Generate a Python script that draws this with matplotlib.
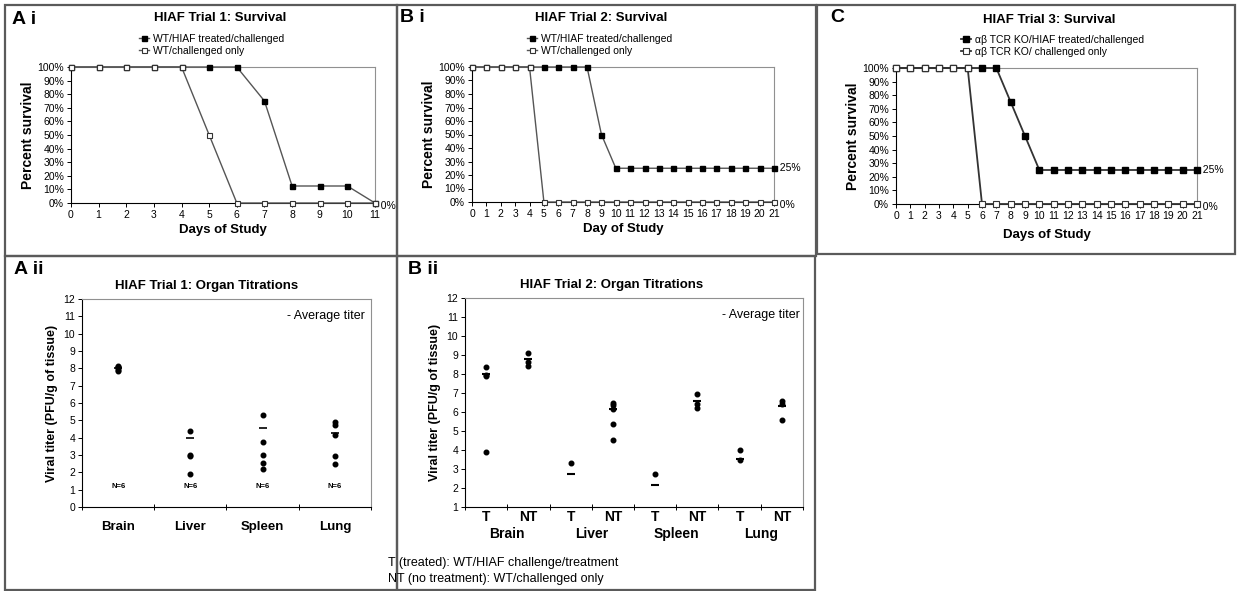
import matplotlib
matplotlib.use("Agg")
import matplotlib.pyplot as plt
from matplotlib.patches import Rectangle

plt.rcParams['font.family'] = ['Liberation Sans', 'DejaVu Sans']

W, H = 1241, 591

# survival data (percent alive per day)
ai_days = [0, 1, 2, 3, 4, 5, 6, 7, 8, 9, 10, 11]
ai_treated = [100, 100, 100, 100, 100, 100, 100, 75, 12.5, 12.5, 12.5, 0]
ai_control = [100, 100, 100, 100, 100, 50, 0, 0, 0, 0, 0, 0]

long_days = [0, 1, 2, 3, 4, 5, 6, 7, 8, 9, 10, 11, 12, 13, 14, 15, 16, 17, 18, 19, 20, 21]
bi_treated = [100, 100, 100, 100, 100, 100, 100, 100, 100, 50, 25, 25, 25, 25, 25, 25, 25, 25, 25, 25, 25, 25]
bi_control = [100, 100, 100, 100, 100, 0, 0, 0, 0, 0, 0, 0, 0, 0, 0, 0, 0, 0, 0, 0, 0, 0]
c_treated = [100, 100, 100, 100, 100, 100, 100, 100, 75, 50, 25, 25, 25, 25, 25, 25, 25, 25, 25, 25, 25, 25]
c_control = [100, 100, 100, 100, 100, 100, 0, 0, 0, 0, 0, 0, 0, 0, 0, 0, 0, 0, 0, 0, 0, 0]

# organ titrations, trial 1
organs = ['Brain', 'Liver', 'Spleen', 'Lung']
aii_points = [
    [8.15, 8.1, 8.05, 8.0, 7.9, 7.85],
    [4.4, 3.0, 2.92, 1.9],
    [5.33, 3.73, 3.02, 2.52, 2.21],
    [4.88, 4.72, 4.15, 2.96, 2.48],
]
aii_avg = [8.0, 3.96, 4.58, 4.27]

# organ titrations, trial 2 (T / NT per organ)
bii_labels = ['T', 'NT', 'T', 'NT', 'T', 'NT', 'T', 'NT']
bii_points = [
    [8.35, 7.95, 7.9, 3.9],
    [9.1, 8.63, 8.44],
    [3.32],
    [6.5, 6.39, 6.18, 5.37, 4.51],
    [2.72],
    [6.96, 6.42, 6.2],
    [4.02, 3.49],
    [6.56, 6.42, 5.6],
]
bii_avg = [8.0, 8.79, 2.74, 6.18, 2.14, 6.6, 3.54, 6.3]

fig = plt.figure(figsize=(W / 100, H / 100), dpi=100)


def box(l, t, r, b):
    return [l / W, 1 - b / H, (r - l) / W, (b - t) / H]


def ftxt(x, y, s, **kw):
    fig.text(x / W, 1 - y / H, s, **kw)


def frame(l, t, r, b):
    fig.add_artist(Rectangle((l / W, 1 - b / H), (r - l) / W, (b - t) / H,
                             transform=fig.transFigure, fill=False,
                             edgecolor='#5a5a5a', lw=1.6))


def excel_axes(ax):
    ax.spines['left'].set_color('black')
    ax.spines['bottom'].set_color('black')
    ax.spines['top'].set_color('#909090')
    ax.spines['right'].set_color('#909090')
    for s in ax.spines.values():
        s.set_linewidth(0.8)


def survival(ax, days, treated, control, ms, lcol, lw, labels, leg_xy, ends):
    l1, = ax.plot(days, treated, '-s', color=lcol, lw=lw, mfc='black', mec='black',
                  ms=ms, clip_on=False, zorder=3)
    l2, = ax.plot(days, control, '-s', color=lcol, lw=lw, mfc='white', mec='#333333',
                  mew=0.8, ms=ms, clip_on=False, zorder=4)
    ax.set_xlim(0, days[-1])
    ax.set_ylim(0, 100)
    ax.set_xticks(days)
    ax.set_yticks(range(0, 101, 10))
    ax.set_yticklabels([f'{v}%' for v in range(0, 101, 10)])
    ax.tick_params(labelsize=7.5, length=3, width=0.7, pad=2)
    excel_axes(ax)
    ax.set_ylabel('Percent survival', fontsize=10, fontweight='bold', labelpad=2)
    for txt, yv in ends:
        ax.text(days[-1], yv, txt, fontsize=7.5, ha='left', va='center',
                transform=ax.transData)
    ax.legend([l1, l2], labels, loc='upper left',
              bbox_to_anchor=(leg_xy[0] / W, 1 - leg_xy[1] / H),
              bbox_transform=fig.transFigure, frameon=False, fontsize=7.5,
              handlelength=1.0, handletextpad=0.3, labelspacing=0.2,
              borderpad=0, borderaxespad=0)


# panel frames
frame(5, 5, 397, 256)
frame(397, 5, 816, 256)
frame(817, 5, 1235, 254)
frame(5, 256, 397, 590)
frame(397, 256, 815, 590)

# A i
ax = fig.add_axes(box(71, 67, 375, 203))
survival(ax, ai_days, ai_treated, ai_control, 3.6, '#555555', 1.0,
         ['WT/HIAF treated/challenged', 'WT/challenged only'], (139, 34),
         [('  0%', -2)])
ax.set_xlabel('Days of Study', fontsize=9.5, fontweight='bold', labelpad=3)
ftxt(12, 19, 'A i', fontsize=14, fontweight='bold', va='center')
ftxt(220, 18, 'HIAF Trial 1: Survival', fontsize=9.5, fontweight='bold', ha='center', va='center')

# B i
ax = fig.add_axes(box(472, 67, 774, 202))
survival(ax, long_days, bi_treated, bi_control, 3.6, '#555555', 1.0,
         ['WT/HIAF treated/challenged', 'WT/challenged only'], (527, 34),
         [('  25%', 25), ('  0%', -2)])
ax.set_xlabel('Day of Study', fontsize=9.5, fontweight='bold', labelpad=3)
ftxt(400, 18, 'B i', fontsize=14, fontweight='bold', va='center')
ftxt(601, 18, 'HIAF Trial 2: Survival', fontsize=9.5, fontweight='bold', ha='center', va='center')

# C
ax = fig.add_axes(box(896, 68, 1197, 204))
survival(ax, long_days, c_treated, c_control, 4.8, '#333333', 1.3,
         ['\u03b1\u03b2 TCR KO/HIAF treated/challenged', '\u03b1\u03b2 TCR KO/ challenged only'],
         (961, 35), [('  25%', 25), ('  0%', -2)])
ax.set_xlabel('Days of Study', fontsize=9.5, fontweight='bold', labelpad=6)
ftxt(830, 18, 'C', fontsize=14, fontweight='bold', va='center')
ftxt(1049, 20, 'HIAF Trial 3: Survival', fontsize=9.5, fontweight='bold', ha='center', va='center')

# A ii
ax = fig.add_axes(box(82, 299, 371, 507))
for i, pts in enumerate(aii_points):
    ax.plot([i + 0.5] * len(pts), pts, 'o', color='black', ms=3.3, clip_on=False)
    ax.plot(i + 0.5, aii_avg[i], '_', color='black', ms=6, mew=1.2)
    ax.text(i + 0.5, 1.2, 'N=6', fontsize=5.5, fontweight='bold', ha='center', va='center')
ax.set_xlim(0, 4)
ax.set_ylim(0, 12)
ax.set_yticks(range(0, 13))
ax.set_xticks([0.5, 1.5, 2.5, 3.5])
ax.set_xticklabels(organs, fontsize=9.5, fontweight='bold')
ax.set_xticks([0, 1, 2, 3, 4], minor=True)
ax.tick_params(axis='x', which='major', length=0, pad=10)
ax.tick_params(axis='x', which='minor', length=4, direction='inout', width=0.7)
ax.tick_params(axis='y', labelsize=7.5, length=3, width=0.7, pad=2)
excel_axes(ax)
ax.set_ylabel('Viral titer (PFU/g of tissue)', fontsize=9, fontweight='bold', labelpad=4)
ax.text(0.98, 0.92, '- Average titer', transform=ax.transAxes, fontsize=9, ha='right', va='center')
ftxt(14, 270, 'A ii', fontsize=14, fontweight='bold', va='center')
ftxt(207, 286, 'HIAF Trial 1: Organ Titrations', fontsize=9.5, fontweight='bold', ha='center', va='center')

# B ii
ax = fig.add_axes(box(465, 298, 803, 507))
for i, pts in enumerate(bii_points):
    ax.plot([i + 0.5] * len(pts), pts, 'o', color='black', ms=3.3, clip_on=False)
    ax.plot(i + 0.5, bii_avg[i], '_', color='black', ms=6, mew=1.5)
ax.set_xlim(0, 8)
ax.set_ylim(1, 12)
ax.set_yticks(range(1, 13))
ax.set_xticks([i + 0.5 for i in range(8)])
ax.set_xticklabels(bii_labels, fontsize=10, fontweight='bold')
ax.set_xticks(range(9), minor=True)
ax.tick_params(axis='x', which='major', length=0, pad=2)
ax.tick_params(axis='x', which='minor', length=4, direction='inout', width=0.7)
ax.tick_params(axis='y', labelsize=7.5, length=3, width=0.7, pad=2)
excel_axes(ax)
ax.set_ylabel('Viral titer (PFU/g of tissue)', fontsize=9, fontweight='bold', labelpad=4)
ax.text(0.99, 0.92, '- Average titer', transform=ax.transAxes, fontsize=9, ha='right', va='center')
for k, name in enumerate(organs):
    ax.text(2 * k + 1, -0.13, name, transform=ax.get_xaxis_transform(), fontsize=10,
            fontweight='bold', ha='center', va='center')
ftxt(408, 270, 'B ii', fontsize=14, fontweight='bold', va='center')
ftxt(612, 285, 'HIAF Trial 2: Organ Titrations', fontsize=9.5, fontweight='bold', ha='center', va='center')
ftxt(388, 563, 'T (treated): WT/HIAF challenge/treatment', fontsize=9, va='center')
ftxt(388, 579, 'NT (no treatment): WT/challenged only', fontsize=9, va='center')

fig.savefig('out.png', dpi=100)
